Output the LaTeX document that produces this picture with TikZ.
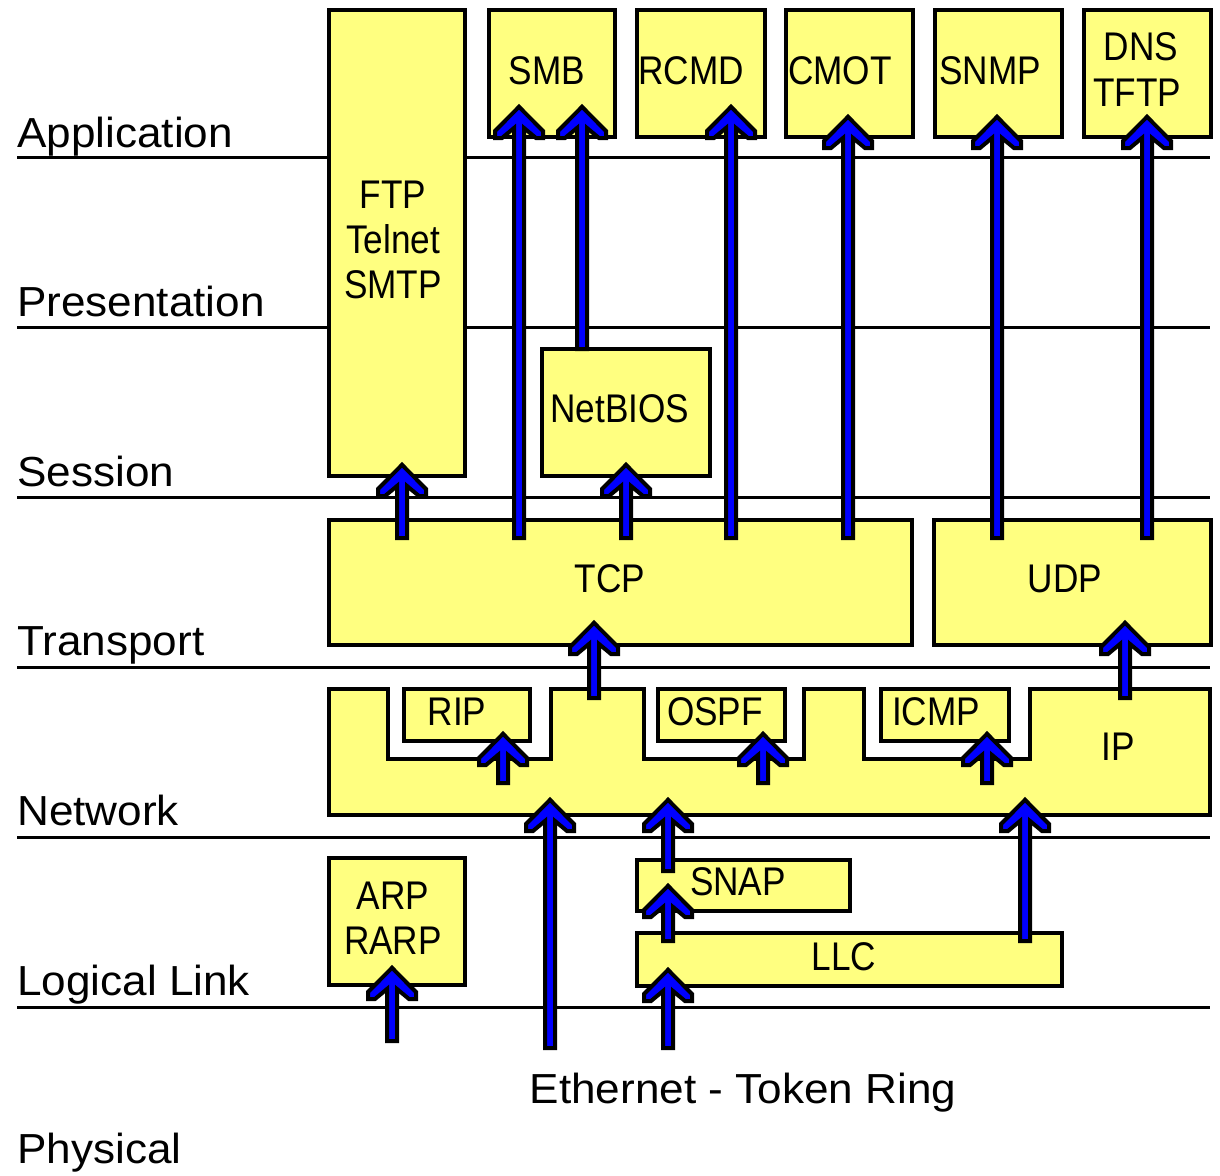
\documentclass[tikz,border=0pt]{standalone}
\usepackage{fontspec}
\setmainfont{Liberation Sans}
\newfontfamily\boxfont{Liberation Sans}[FakeStretch=0.88]
\newfontfamily\labelfont{Liberation Sans}[FakeStretch=1.05]
\definecolor{boxyellow}{RGB}{255,255,128}
\definecolor{arrowblue}{RGB}{0,0,255}
\tikzset{
  layerline/.style={line width=3.5pt, draw=black},
  box/.style={draw=black, fill=boxyellow, line width=4pt, rectangle, inner sep=0pt, outer sep=0pt},
  boxtext/.style={anchor=base, inner sep=0pt, font=\boxfont\fontsize{40}{44}\selectfont},
  layertext/.style={anchor=base west, inner sep=0pt, font=\labelfont\fontsize{42}{48}\selectfont},
  flow/.style={draw=black, fill=arrowblue, line width=4pt, line join=miter},
}
% box: name, x1, y1, x2, y2 (pixel coordinates, y downwards)
\newcommand\mkbox[5]{\node[box, minimum width={#4-#2}, minimum height={#5-#3}] (#1) at ({(#2+#4)/2},{(#3+#5)/2}) {};}
% upward flow arrow: x, outer bottom, outer tip
\newcommand\flowup[3]{%
  \draw[flow] ({#1-5},{#2-2}) -- ({#1-5},{#3+24}) -- ({#1-17},{#3+34}) -- ({#1-24},{#3+34}) -- ({#1-24},{#3+27}) -- ({#1},{#3+2.8}) -- ({#1+24},{#3+27}) -- ({#1+24},{#3+34}) -- ({#1+17},{#3+34}) -- ({#1+5},{#3+24}) -- ({#1+5},{#2-2}) -- cycle;}
\begin{document}
\begin{tikzpicture}[x=1pt,y=-1pt]
\useasboundingbox (0,0) rectangle (1220,1175);
\fill[white] (0,0) rectangle (1220,1175);

% layer lines
\foreach \yy in {157.5,327.5,497.5,667.5,837.5,1007.5}
  \draw[layerline] (17,\yy) -- (1210,\yy);

% layer labels
\node[layertext] (lapp) at (17,147) {Application};
\node[layertext] (lpre) at (17,316) {Presentation};
\node[layertext] (lses) at (17,486) {Session};
\node[layertext] (ltra) at (17,655) {Transport};
\node[layertext] (lnet) at (17,825) {Network};
\node[layertext] (llog) at (17,995) {Logical Link};
\node[layertext] (lphy) at (17,1163) {Physical};

% boxes
\mkbox{ftp}{328.5}{10}{465}{476}
\mkbox{smb}{488.5}{10}{615}{136.5}
\mkbox{rcmd}{637}{10}{765}{136.5}
\mkbox{cmot}{786}{10}{912.5}{136.5}
\mkbox{snmp}{935}{10}{1061.5}{136.5}
\mkbox{dns}{1083.5}{10}{1211}{136.5}
\mkbox{netbios}{541.5}{349}{710}{476}
\mkbox{tcp}{328.5}{520}{911.5}{645}
\mkbox{udp}{934}{520}{1211}{645}
\mkbox{arp}{328.5}{858}{465}{985}
\mkbox{snap}{637}{860}{850}{911}
\mkbox{llc}{637}{933}{1062}{986}

% IP shape
\draw[box] (328.5,689) -- (388,689) -- (388,759) -- (551,759) -- (551,689) -- (643.5,689) -- (643.5,759) -- (803.5,759) -- (803.5,689) -- (863.5,689) -- (863.5,759) -- (1030,759) -- (1030,689) -- (1210,689) -- (1210,815) -- (328.5,815) -- cycle;
\coordinate (ip) at (1118,750);
\mkbox{rip}{403.5}{689}{530}{741}
\mkbox{ospf}{658}{689}{785}{741}
\mkbox{icmp}{881}{689}{1008.5}{741}

% box texts
\node[boxtext] (tftp1) at (393,208) {FTP};
\node[boxtext] (tftp2) at (393,253) {Telnet};
\node[boxtext] (tftp3) at (393,298) {SMTP};
\node[boxtext] (tsmb) at (547,84) {SMB};
\node[boxtext] (trcmd) at (691,84) {RCMD};
\node[boxtext] (tcmot) at (840,84) {CMOT};
\node[boxtext] (tsnmp) at (990,84) {SNMP};
\node[boxtext] (tdns1) at (1141,60) {DNS};
\node[boxtext] (tdns2) at (1137,106) {TFTP};
\node[boxtext] (tnetb) at (620,422) {NetBIOS};
\node[boxtext] (ttcp) at (610,592) {TCP};
\node[boxtext] (tudp) at (1065,592) {UDP};
\node[boxtext] (trip) at (457,725) {RIP};
\node[boxtext] (tospf) at (715,725) {OSPF};
\node[boxtext] (ticmp) at (936,725) {ICMP};
\node[boxtext] (tip) at (1118,760) {IP};
\node[boxtext] (tarp1) at (393,909) {ARP};
\node[boxtext] (tarp2) at (393,954) {RARP};
\node[boxtext] (tsnap) at (738,895) {SNAP};
\node[boxtext] (tllc) at (844,970) {LLC};
\node[anchor=base, inner sep=0pt, font=\labelfont\fontsize{42}{48}\selectfont] (eth) at (743,1103) {Ethernet - Token Ring};

% flow arrows
\flowup{402}{540}{462}
\flowup{519}{540}{104}
\flowup{582}{351}{104}
\flowup{626}{540}{462}
\flowup{731}{540}{104}
\flowup{848}{540}{114}
\flowup{997}{540}{114}
\flowup{1147}{540}{114}
\flowup{594}{700}{620}
\flowup{1125}{700}{620}
\flowup{503}{785}{731}
\flowup{763}{785}{731}
\flowup{987}{785}{731}
\flowup{550}{1050}{797}
\flowup{668}{873}{797}
\flowup{668}{943}{883}
\flowup{668}{1050}{967}
\flowup{1025}{943}{797}
\flowup{392}{1043}{965}
\end{tikzpicture}
\end{document}
